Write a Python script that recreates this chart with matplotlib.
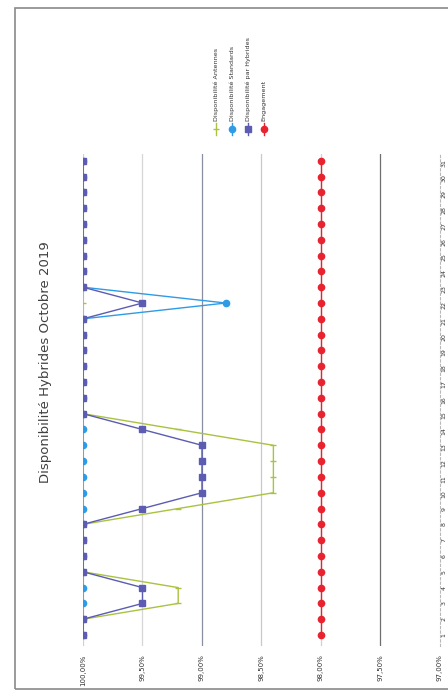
import numpy as np
import matplotlib
matplotlib.use("Agg")
import matplotlib.pyplot as plt
from matplotlib.lines import Line2D
from matplotlib.patches import Rectangle

W, H = 448, 697

# data read from the (rotated) scan
days = list(range(1, 32))
antennes = [100.0] * 31
for d, v in [(3, 99.2), (4, 99.2), (9, 99.2), (10, 98.4), (11, 98.4),
             (12, 98.4), (13, 98.4), (14, 99.2)]:
    antennes[d - 1] = v
standards = [100.0] * 31
standards[22 - 1] = 98.8
hybrides = [100.0] * 31
for d, v in [(3, 99.5), (4, 99.5), (9, 99.5), (10, 99.0), (11, 99.0),
             (12, 99.0), (13, 99.0), (14, 99.5), (22, 99.5)]:
    hybrides[d - 1] = v
engagement = [98.0] * 31

series_names = ["Disponibilité Antennes", "Disponibilité Standards",
                "Disponibilité par Hybrides", "Engagement"]
value_ticks = [100.0, 99.5, 99.0, 98.5, 98.0, 97.5, 97.0]
title = "Disponibilité Hybrides Octobre 2019"

colors = ["#a9c23f", "#2e9be6", "#5b5cb2", "#e8232f"]
markers = ["_", "o", "s", "o"]
msizes = [4, 4.5, 4.2, 4.5]


def px(x, y):
    # pixel (from top-left) -> figure fraction
    return x / W, 1 - y / H


fig = plt.figure(figsize=(W / 100, H / 100), dpi=100)
fig.patch.set_facecolor("white")

# chart is rotated: value axis runs left->right (100% at left), days bottom->top
left, right = 83, 440
top, bottom = 154.4, 646.1
ax = fig.add_axes([left / W, 1 - bottom / H, (right - left) / W, (bottom - top) / H])
ax.set_xlim(100.0, 97.0)
ax.set_ylim(0.3, 31.4)

for vals, c, m, ms in zip([antennes, standards, hybrides, engagement], colors, markers, msizes):
    ax.plot(vals, days, color=c, marker=m, markersize=ms, lw=1.0, mew=1.0, zorder=3)

# gridlines
grid_cols = ["#d0d0d0", "#d6d6d6", "#8a8fa0", "#c8c8c8", "#d0d0d0", "#6e6e6e", None]
for v, gc in zip(value_ticks, grid_cols):
    if gc:
        ax.axvline(v, color=gc, lw=0.9, zorder=1)

for s in ["top", "bottom", "left"]:
    ax.spines[s].set_visible(False)
ax.spines["right"].set_color("#b8b8b8")
ax.spines["right"].set_linestyle((0, (2, 2)))
ax.spines["right"].set_linewidth(0.8)

ax.set_xticks(value_ticks)
ax.set_xticklabels([f"{v:.2f}%".replace(".", ",") for v in value_ticks],
                   rotation=90, fontsize=5, color="#333333")
ax.tick_params(axis="x", length=0, pad=6)

ax.yaxis.tick_right()
ax.set_yticks(days)
ax.set_yticklabels([str(d) for d in days], rotation=90, fontsize=4.5, color="#333333")
ax.tick_params(axis="y", length=0, pad=1)

# title (rotated)
tx, ty = px(45, 362)
fig.text(tx, ty, title, rotation=90, ha="center", va="center", fontsize=9.5, color="#404040")

# legend (rotated, drawn by hand)
leg_x = [216, 232, 248, 264]
for name, c, m, ms, lx in zip(series_names, colors, markers, msizes, leg_x):
    x0, y0 = px(lx, 135)
    x1, y1 = px(lx, 123)
    fig.add_artist(Line2D([x0, x1], [y0, y1], color=c, lw=1.0))
    xm, ym = px(lx, 129)
    fig.add_artist(Line2D([xm], [ym], color=c, marker=m, markersize=ms, mew=1.0))
    xt, yt = px(lx, 121)
    fig.text(xt, yt, name, rotation=90, ha="center", va="bottom", fontsize=4.6, color="#333333")

# chart frame (right edge is cut off in the scan)
fx, fy = px(15, 689)
fig.add_artist(Rectangle((fx, fy), 1.2, (689 - 8) / H, transform=fig.transFigure,
                         fill=False, edgecolor="#8a8a8a", lw=1.2))

fig.savefig("out.png", dpi=100, facecolor="white")
